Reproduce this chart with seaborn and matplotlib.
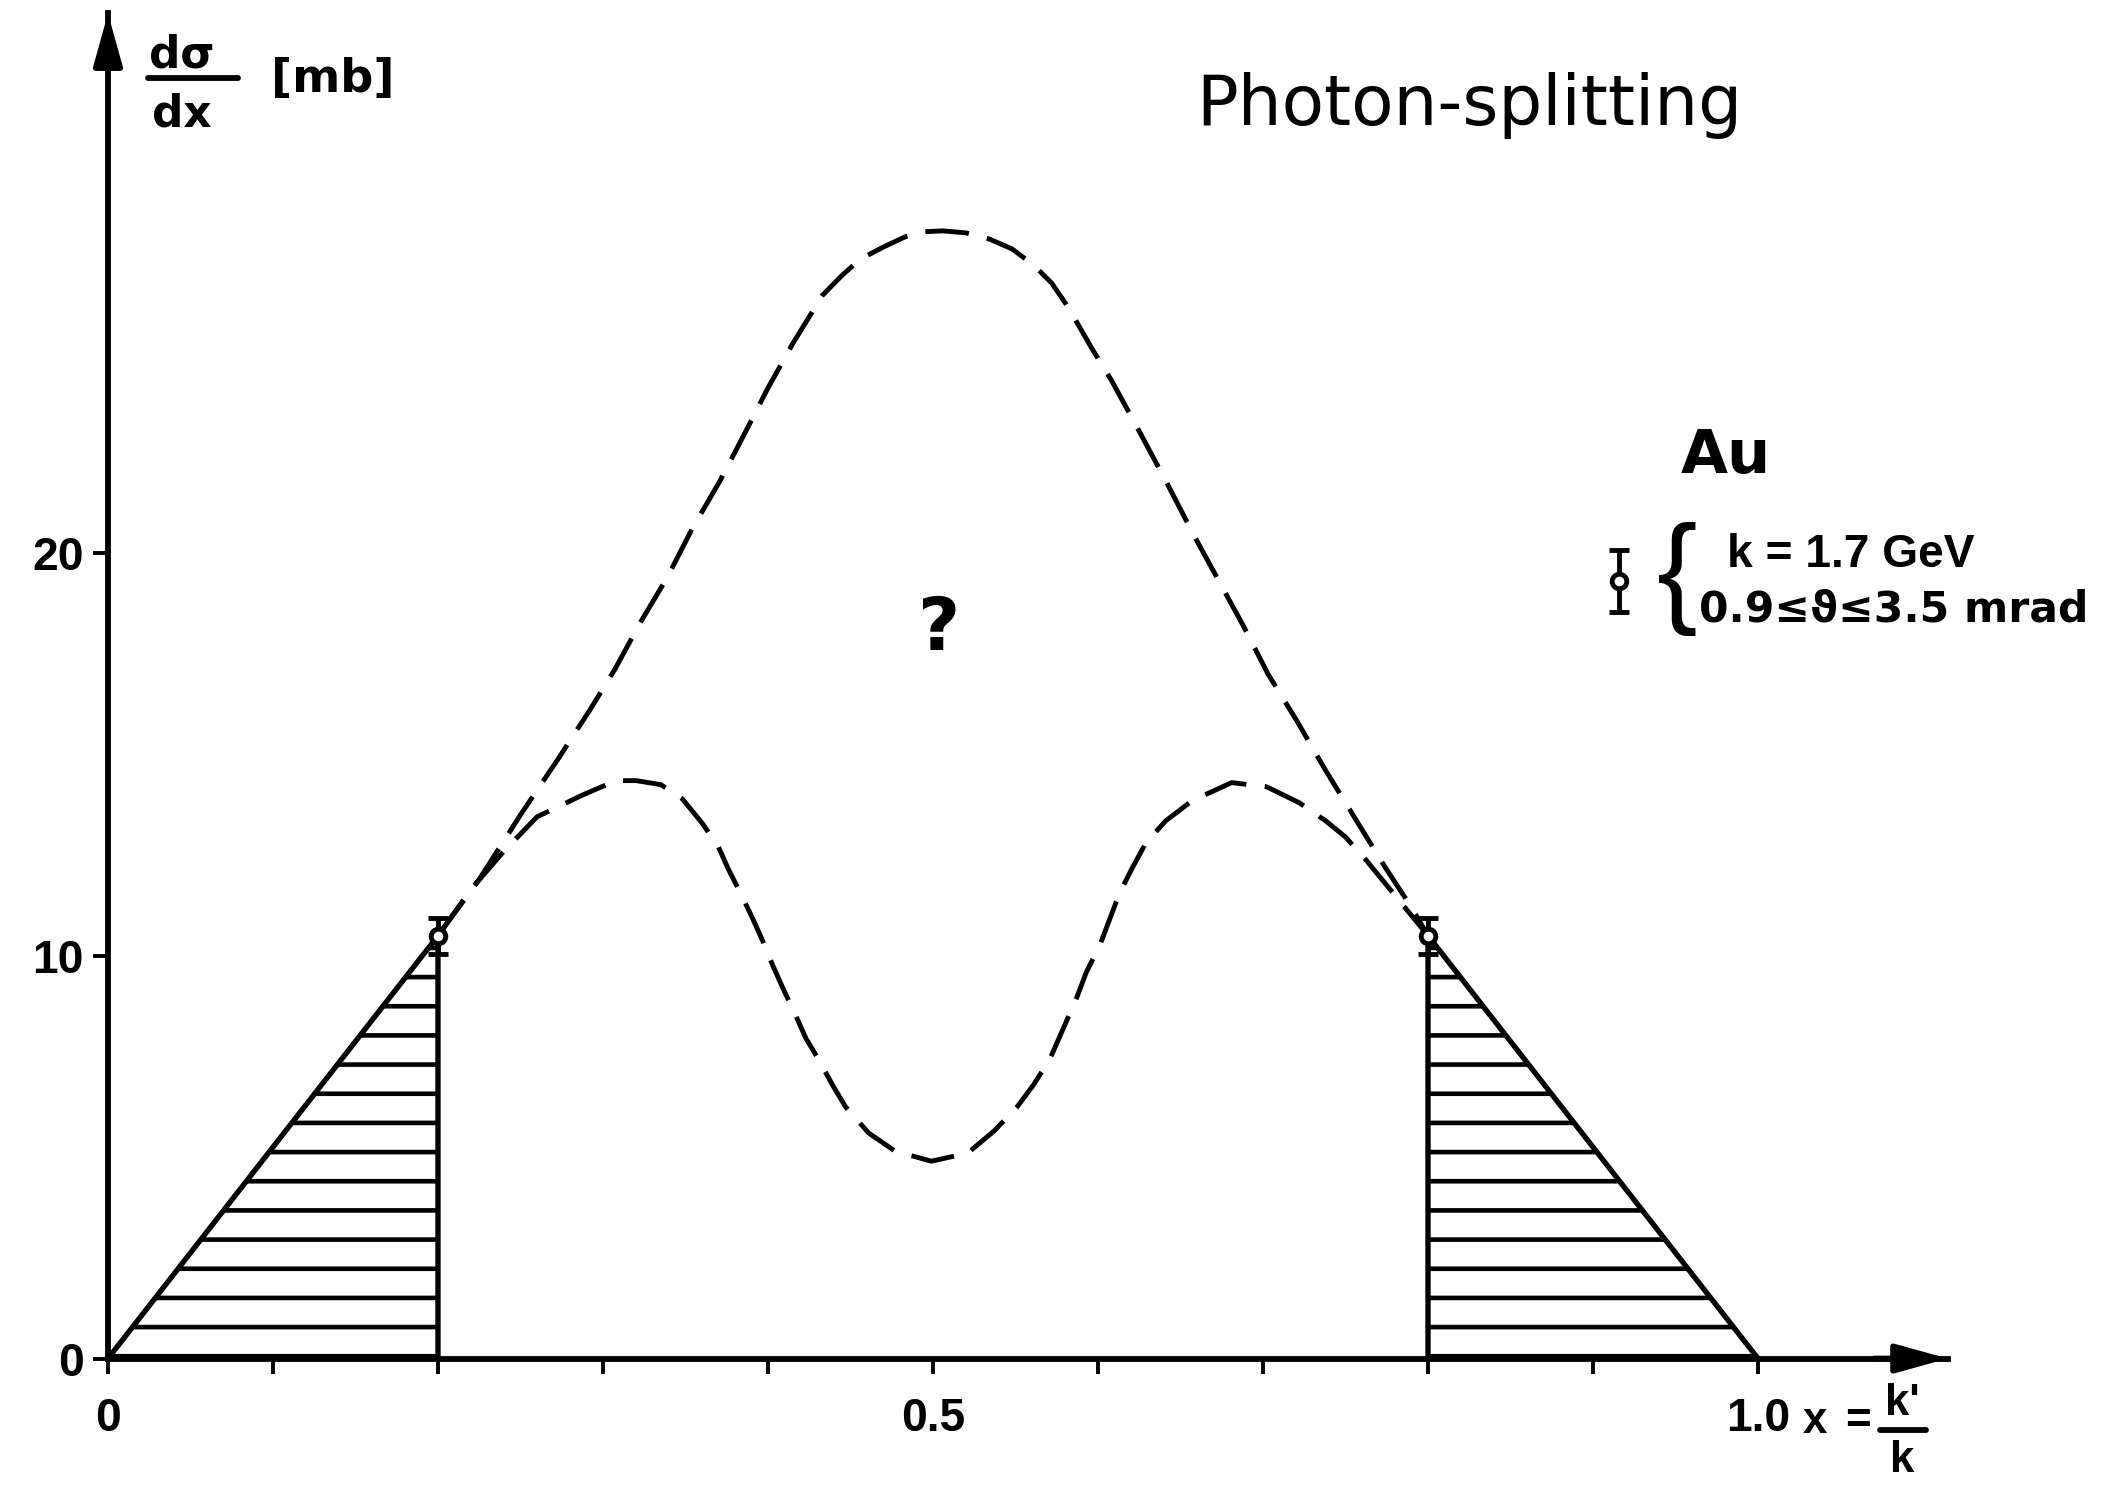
import matplotlib
matplotlib.use('Agg')
import matplotlib.pyplot as plt
import seaborn as sns
from matplotlib.lines import Line2D

# measured points, x = k'/k, d(sigma)/dx in mb
x_meas = [0.2, 0.8]
y_meas = [10.5, 10.5]
y_err = [0.45, 0.45]

# hatched (measured) regions
x_left = [0.0, 0.2]
y_left = [0.0, 10.5]
x_right = [0.8, 1.0]
y_right = [10.5, 0.0]

# upper dashed curve
x_upper = [0.20, 0.225, 0.25, 0.273, 0.292, 0.307, 0.323, 0.339, 0.354, 0.371,
           0.385, 0.40, 0.415, 0.433, 0.445, 0.456, 0.47, 0.483, 0.495, 0.506,
           0.52, 0.534, 0.548, 0.561, 0.572, 0.582, 0.596, 0.608, 0.624, 0.641,
           0.658, 0.674, 0.688, 0.703, 0.721, 0.738, 0.756, 0.774, 0.79, 0.80]
y_upper = [10.5, 11.9, 13.5, 14.9, 16.1, 17.1, 18.3, 19.4, 20.6, 21.8,
           22.9, 24.1, 25.2, 26.4, 26.9, 27.3, 27.6, 27.85, 27.98, 28.0,
           27.95, 27.8, 27.55, 27.15, 26.7, 26.1, 25.1, 24.3, 23.1, 21.8,
           20.45, 19.25, 18.2, 17.0, 15.8, 14.6, 13.4, 12.2, 11.2, 10.5]

# lower dashed curve
x_lower = [0.20, 0.22, 0.24, 0.26, 0.288, 0.308, 0.32, 0.335, 0.348, 0.36,
           0.37, 0.376, 0.384, 0.391, 0.397, 0.403, 0.409, 0.417, 0.423, 0.431,
           0.439, 0.447, 0.461, 0.477, 0.499, 0.521, 0.537, 0.551, 0.561, 0.571,
           0.579, 0.587, 0.593, 0.601, 0.607, 0.613, 0.621, 0.629, 0.641, 0.657,
           0.681, 0.702, 0.722, 0.738, 0.75, 0.762, 0.774, 0.786, 0.80]
y_lower = [10.5, 11.65, 12.6, 13.45, 14.0, 14.35, 14.35, 14.25, 13.9, 13.3,
           12.7, 12.15, 11.5, 10.9, 10.35, 9.75, 9.2, 8.5, 7.95, 7.4,
           6.8, 6.25, 5.6, 5.15, 4.9, 5.1, 5.65, 6.25, 6.8, 7.45,
           8.2, 8.95, 9.6, 10.25, 10.9, 11.55, 12.2, 12.8, 13.35, 13.85,
           14.3, 14.2, 13.8, 13.35, 12.95, 12.4, 11.8, 11.2, 10.5]

x_ticks = [0.0, 0.1, 0.2, 0.3, 0.4, 0.5, 0.6, 0.7, 0.8, 0.9, 1.0]
x_ticklabels = ['0', '', '', '', '', '0.5', '', '', '', '', '1.0']
y_ticks = [0, 10, 20]
y_ticklabels = ['0', '10', '20']

sns.set_theme(style='ticks')
plt.rcParams['font.family'] = ['DejaVu Sans']
plt.rcParams['text.color'] = 'black'
plt.rcParams['xtick.color'] = 'black'
plt.rcParams['ytick.color'] = 'black'
plt.rcParams['hatch.linewidth'] = 1.9
plt.rcParams['hatch.color'] = 'black'

DPI = 175
fig = plt.figure(figsize=(2105 / DPI, 1488 / DPI), dpi=DPI)
ax = fig.add_axes([0.0513, 0.087, 0.874, 0.904])

dash = (0, (9, 3.8))

# hatched triangles
ax.fill_between(x_left, 0, y_left, facecolor='none', edgecolor='black',
                hatch='-', linewidth=2.2)
ax.fill_between(x_right, 0, y_right, facecolor='none', edgecolor='black',
                hatch='-', linewidth=2.2)

sns.lineplot(x=x_upper, y=y_upper, ax=ax, color='black', linewidth=2.0,
             linestyle=dash, sort=False, estimator=None)
sns.lineplot(x=x_lower, y=y_lower, ax=ax, color='black', linewidth=2.0,
             linestyle=dash, sort=False, estimator=None)

ax.errorbar(x_meas, y_meas, yerr=y_err, fmt='o', mfc='white', mec='black',
            mew=2, ms=6, ecolor='black', elinewidth=2, capsize=4, capthick=2,
            zorder=5)

ax.set_xlim(0, 1.115)
ax.set_ylim(0, 33.4)
sns.despine(ax=ax)
for s in ['left', 'bottom']:
    ax.spines[s].set_linewidth(2.4)
    ax.spines[s].set_color('black')

ax.set_xticks(x_ticks)
ax.set_xticklabels(x_ticklabels)
ax.set_yticks(y_ticks)
ax.set_yticklabels(y_ticklabels)
ax.tick_params(direction='out', length=6, width=1.6, color='black',
               labelcolor='black')
ax.tick_params(axis='x', pad=10)
ax.tick_params(axis='y', pad=4)
for lab in ax.get_xticklabels() + ax.get_yticklabels():
    lab.set_fontfamily(['Liberation Sans', 'DejaVu Sans'])
    lab.set_fontweight('bold')
    lab.set_fontsize(19)

# arrow heads at axis ends
arrow = dict(arrowstyle='-|>,head_length=0.9,head_width=0.25', color='black',
             lw=2.4, mutation_scale=20, shrinkA=0, shrinkB=0)
ax.annotate('', xy=(1, 0), xycoords='axes fraction', xytext=(0.96, 0),
            arrowprops=arrow, annotation_clip=False)
ax.annotate('', xy=(0, 1), xycoords='axes fraction', xytext=(0, 0.96),
            arrowprops=arrow, annotation_clip=False)

# title and labels
fig.text(0.698, 0.929, 'Photon-splitting', fontsize=28.5, ha='center',
         va='center', color='black')

lab_font = dict(fontweight='bold', ha='center', va='center', color='black')
fig.text(182 / 2105, 1 - 55 / 1488, 'dσ', fontsize=18, **lab_font)
fig.text(182 / 2105, 1 - 114 / 1488, 'dx', fontsize=18, **lab_font)
fig.add_artist(Line2D([148 / 2105, 238 / 2105], [1 - 78 / 1488, 1 - 78 / 1488],
                      color='black', lw=2.4))
fig.text(333 / 2105, 1 - 80 / 1488, '[mb]', fontsize=19, **lab_font)

nfont = dict(fontweight='bold', ha='center', va='center', color='black',
             family=['Liberation Sans', 'DejaVu Sans'])
fig.text(1815 / 2105, 1 - 1421 / 1488, 'x', fontsize=18, **nfont)
fig.text(1858 / 2105, 1 - 1421 / 1488, '=', fontsize=18, **nfont)
fig.text(1902 / 2105, 1 - 1403 / 1488, "k'", fontsize=18, **nfont)
fig.text(1902 / 2105, 1 - 1460 / 1488, 'k', fontsize=18, **nfont)
fig.add_artist(Line2D([1880 / 2105, 1926 / 2105], [1 - 1430 / 1488, 1 - 1430 / 1488],
                      color='black', lw=2.4))

ax.text(0.504, 18.1, '?', fontsize=30, fontweight='bold', ha='center',
        va='center')

# key
ax.text(0.953, 22.4, 'Au', fontsize=25, fontweight='bold', ha='left',
        va='center')
ax.errorbar([0.916], [19.3], yerr=[0.77], fmt='o', mfc='white', mec='black',
            mew=2, ms=6, ecolor='black', elinewidth=2, capsize=4, capthick=2,
            clip_on=False)
ax.text(0.951, 19.35, '{', fontsize=50, ha='center', va='center',
        family=['Liberation Sans', 'DejaVu Sans'])
ax.text(0.981, 19.95, 'k = 1.7 GeV', fontsize=19, fontweight='bold',
        ha='left', va='center', family=['Liberation Sans', 'DejaVu Sans'])
ax.text(0.964, 18.6, '0.9≤ϑ≤3.5 mrad', fontsize=17.5, fontweight='bold',
        ha='left', va='center')

fig.savefig('out.png', dpi=DPI)
